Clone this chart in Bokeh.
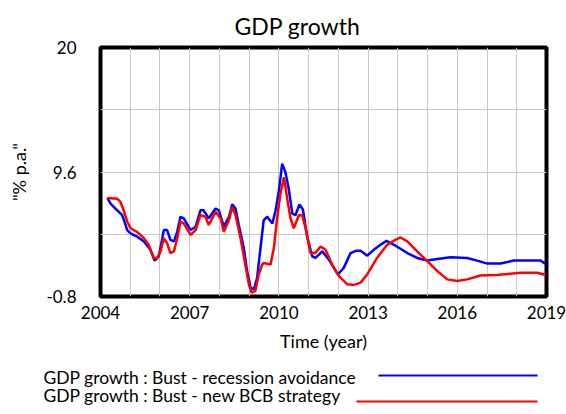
from bokeh.plotting import figure
from bokeh.models import FixedTicker, Range1d
from bokeh.layouts import column, row
from bokeh.core.properties import value
from bokeh.embed import file_html
from bokeh.resources import INLINE

# GDP growth (% p.a.) for two scenarios, sampled at breakpoints of the simulated path
years_avoid = [2004.23, 2004.34, 2004.50, 2004.73, 2004.90, 2005.01, 2005.23, 2005.46, 2005.68, 2005.82,
               2005.96, 2006.08, 2006.13, 2006.24, 2006.35, 2006.47, 2006.58, 2006.69, 2006.80, 2007.03,
               2007.20, 2007.36, 2007.47, 2007.64, 2007.87, 2007.98, 2008.15, 2008.32, 2008.43, 2008.54,
               2008.65, 2008.82, 2008.93, 2009.05, 2009.16, 2009.27, 2009.38, 2009.49, 2009.61, 2009.78,
               2009.89, 2010.00, 2010.11, 2010.22, 2010.33, 2010.45, 2010.56, 2010.69, 2010.81, 2010.95,
               2011.12, 2011.23, 2011.46, 2011.68, 2011.85, 2011.98, 2012.18, 2012.41, 2012.58, 2012.75,
               2012.97, 2013.19, 2013.42, 2013.62, 2013.87, 2014.32, 2014.65, 2014.99, 2015.33, 2015.77,
               2016.33, 2016.67, 2017.01, 2017.45, 2017.90, 2018.80, 2018.97]
gdp_avoid = [7.43, 6.96, 6.55, 6.00, 4.75, 4.48, 4.20, 3.80, 3.10, 2.20,
             2.56, 4.07, 4.75, 4.75, 3.93, 3.80, 4.60, 5.86, 5.72, 4.75,
             5.03, 6.40, 6.40, 5.72, 6.55, 6.40, 5.03, 5.86, 6.90, 6.55,
             5.17, 3.25, 1.32, -0.06, -0.20, 0.77, 3.25, 5.58, 5.86, 5.30,
             6.40, 8.06, 10.30, 9.57, 8.20, 6.13, 6.00, 6.90, 6.45, 4.20,
             2.56, 2.42, 2.97, 2.28, 1.59, 1.04, 1.59, 2.83, 3.02, 3.02,
             2.61, 3.10, 3.52, 3.85, 3.52, 2.83, 2.42, 2.20, 2.34, 2.48,
             2.42, 2.20, 1.95, 1.95, 2.20, 2.20, 1.92]

years_bcb = [2004.23, 2004.56, 2004.67, 2004.78, 2004.90, 2005.01, 2005.23, 2005.46, 2005.62, 2005.79,
             2005.91, 2006.02, 2006.13, 2006.24, 2006.35, 2006.47, 2006.58, 2006.69, 2006.80, 2007.03,
             2007.20, 2007.36, 2007.53, 2007.64, 2007.87, 2008.04, 2008.15, 2008.32, 2008.43, 2008.54,
             2008.71, 2008.87, 2008.99, 2009.08, 2009.21, 2009.32, 2009.44, 2009.49, 2009.72, 2009.83,
             2009.94, 2010.05, 2010.17, 2010.28, 2010.39, 2010.50, 2010.67, 2010.78, 2010.90, 2011.06,
             2011.23, 2011.40, 2011.57, 2011.79, 2012.02, 2012.07, 2012.30, 2012.52, 2012.75, 2012.97,
             2013.30, 2013.64, 2013.92, 2014.09, 2014.32, 2014.65, 2014.99, 2015.33, 2015.66, 2016.00,
             2016.33, 2016.78, 2017.34, 2018.13, 2018.69, 2018.97]
gdp_bcb = [7.43, 7.37, 7.10, 6.40, 5.44, 4.90, 4.60, 4.07, 3.52, 2.42,
           2.42, 2.97, 4.07, 3.66, 2.83, 2.97, 4.07, 5.44, 5.30, 4.34,
           4.75, 6.00, 5.86, 5.17, 6.27, 5.72, 4.60, 5.58, 6.68, 6.00,
           4.07, 1.87, 0.22, -0.47, -0.33, 1.04, 1.87, 2.00, 1.87, 3.25,
           5.72, 7.78, 9.16, 7.37, 5.72, 4.90, 5.99, 5.99, 4.90, 2.83,
           2.83, 3.38, 3.10, 1.87, 0.90, 0.77, 0.22, 0.17, 0.36, 1.04,
           2.42, 3.52, 3.93, 4.13, 3.80, 2.97, 2.15, 1.32, 0.63, 0.50,
           0.63, 0.96, 0.99, 1.18, 1.18, 0.99]

x_tick_labels = [2004, 2007, 2010, 2013, 2016, 2019]
y_tick_labels = [-0.8, 9.6, 20]
x_grid = list(range(2004, 2020))
y_grid = [-0.8, 4.4, 9.6, 14.8, 20]

series_names = ["GDP growth : Bust - recession avoidance", "GDP growth : Bust - new BCB strategy"]
series_colors = ["#0000ff", "#ff0000"]

FONT = "Lato"

# ---- main chart ----
p = figure(width=566, height=354, x_range=(2004, 2019), y_range=(-0.8, 20),
           output_backend="svg", toolbar_location=None,
           min_border_left=100, min_border_right=20, min_border_top=47, min_border_bottom=55)

p.title.text = "GDP growth"
p.title.align = "left"
p.title.offset = 134
p.title.standoff = 15
p.title.text_font = FONT
p.title.text_font_size = "23px"
p.title.text_font_style = "normal"
p.title.text_color = "black"

p.outline_line_color = "black"
p.outline_line_width = 4
p.background_fill_color = "white"
p.border_fill_color = "white"

p.xgrid.ticker = FixedTicker(ticks=x_grid)
p.ygrid.ticker = FixedTicker(ticks=y_grid)
for g in (p.xgrid, p.ygrid):
    g.grid_line_color = "#c8c8c8"
    g.grid_line_width = 1

p.xaxis.ticker = FixedTicker(ticks=x_tick_labels)
p.yaxis.ticker = FixedTicker(ticks=y_tick_labels)
p.yaxis.major_label_overrides = {-0.8: "-0.8", 9.6: "9.6", 20: "20"}
for ax in (p.xaxis, p.yaxis):
    ax.axis_line_color = None
    ax.major_tick_line_color = None
    ax.minor_tick_line_color = None
    ax.major_label_text_font = FONT
    ax.major_label_text_font_size = "17px"
    ax.major_label_text_color = "black"
    ax.axis_label_text_font = FONT
    ax.axis_label_text_font_size = "18px"
    ax.axis_label_text_font_style = "normal"
    ax.axis_label_text_color = "black"

p.xaxis.axis_label = "Time (year)"
p.xaxis.major_label_standoff = 3
p.xaxis.axis_label_standoff = 8
p.yaxis.axis_label = '"% p.a."'
p.yaxis.major_label_standoff = 18
p.yaxis.axis_label_standoff = 13

p.line(years_avoid, gdp_avoid, line_color=series_colors[0], line_width=2.5)
p.line(years_bcb, gdp_bcb, line_color=series_colors[1], line_width=2.5)

# ---- legend strip: label text, then a line swatch on the right ----
leg = figure(width=566, height=60, x_range=Range1d(0, 566), y_range=Range1d(60, 0),
             output_backend="svg", toolbar_location=None,
             min_border_left=0, min_border_right=0, min_border_top=0, min_border_bottom=0)
leg.axis.visible = False
leg.grid.visible = False
leg.outline_line_color = None

text_x = [43, 43]
text_y = [23, 41]
swatch_x0 = [378, 356]
swatch_x1 = [537, 537]
swatch_y = [21, 47]

leg.text(x=text_x, y=text_y, text=series_names, text_font=value(FONT), text_font_size="17.5px",
         text_align="left", text_baseline="middle", text_color="black")
leg.segment(x0=swatch_x0, y0=swatch_y, x1=swatch_x1, y1=swatch_y, line_color=series_colors, line_width=2)

layout = column(p, row(leg), spacing=0)
open("out.html", "w").write(file_html(layout, INLINE))
